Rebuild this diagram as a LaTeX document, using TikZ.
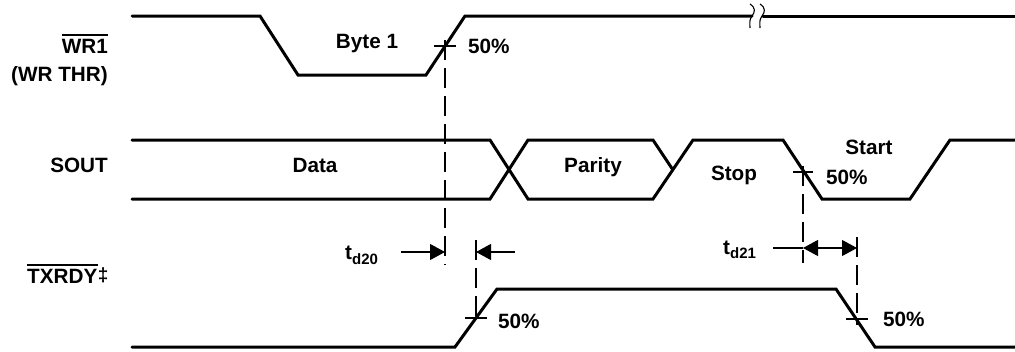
\documentclass[tikz,border=0pt]{standalone}
\usepackage{fontspec}
\setmainfont{Liberation Sans}
\usetikzlibrary{arrows.meta}
\begin{document}
\begin{tikzpicture}[x=1pt,y=-1pt,
  sig/.style={line width=3pt,line cap=round,line join=miter},
  thin/.style={line width=1.1pt},
  dsh/.style={line width=1.1pt,dash pattern=on 20pt off 8pt},
  lbl/.style={inner sep=0pt,font=\fontsize{20.7}{24}\selectfont\bfseries},
  dimarrow/.style={line width=1.1pt,-{Triangle[length=15pt,width=16pt]}},
]
\useasboundingbox (0,0) rectangle (1015,351);
% ---- WR1 signal
\draw[sig] (132,16) -- (260,16) -- (298,75) -- (426,75) -- (465,16) -- (752,16);
\draw[sig] (763,16) -- (1030,16);
\coordinate (k1) at (752,16);
\coordinate (k2) at (762,16);
\draw[thin] (k1) ++(-2,-12) .. controls ++(6,4) and ++(3,-4) .. ++(2,12) .. controls ++(-3,4) and ++(0,-5) .. ++(-2,12);
\draw[thin] (k2) ++(-2,-12) .. controls ++(6,4) and ++(3,-4) .. ++(2,12) .. controls ++(-3,4) and ++(0,-5) .. ++(-2,12);
% ---- SOUT signal
\draw[sig] (132,140) -- (490,140) -- (528,199) -- (653,199) -- (693,140) -- (783,140) -- (822,199) -- (910,199) -- (950,140) -- (1030,140);
\draw[sig] (132,199) -- (490,199) -- (528,140) -- (653,140) -- (673,170);
% ---- TXRDY signal
\draw[sig] (132,347) -- (455,347) -- (497,289) -- (836,289) -- (875,347) -- (1030,347);
% ---- reference points
\coordinate (c1) at (445,46);
\coordinate (c2) at (803,172);
\coordinate (c3) at (476,318);
\coordinate (c4) at (857,319);
\coordinate (a1) at (445,252);
\coordinate (a2) at (476,252);
\coordinate (b1) at (803,248);
\coordinate (b2) at (857,248);
% crosses
\draw[thin] (c1) ++(-11,0) -- ++(22,0);
\draw[thin] (c2) ++(-10,0) -- ++(20,0);
\draw[thin] (c3) ++(-11,0) -- ++(22,0);
\draw[thin] (c4) ++(-11,0) -- ++(22,0);
% dashed verticals
\draw[dsh] (c1) ++(0,-6) -- ([yshift=-13pt]a1);
\draw[dsh] (a2) ++(0,-12) -- ([yshift=-6pt]c3);
\draw[dsh] (c2) ++(0,-6) -- ([yshift=-15pt]b1);
\draw[dsh] (b2) ++(0,-11) -- ([yshift=-6pt]c4);
% dimension arrows
\coordinate (a1e) at (401,252);
\coordinate (a2e) at (515,252);
\coordinate (b1e) at (773,248);
\draw[dimarrow] (a1e) -- (a1);
\draw[dimarrow] (a2e) -- (a2);
\draw[thin] (b1e) -- (b1);
\draw[line width=1.1pt,{Triangle[length=15pt,width=16pt]}-{Triangle[length=15pt,width=16pt]}] (b1) -- (b2);
% ---- labels
\node[lbl,anchor=base east] (wr) at (108,53) {WR1};
\draw[line width=1.3pt] (wr.west |- 0,35) -- (wr.east |- 0,35);
\node[lbl,anchor=base east] (wrthr) at (108,81) {(WR THR)};
\node[lbl,anchor=base east] (sout) at (108,172) {SOUT};
\node[lbl,anchor=base west] (tx) at (27,283) {TXRDY};
\draw[line width=1.3pt] (tx.west |- 0,265) -- (tx.east |- 0,265);
\node[lbl,anchor=base west,font=\fontsize{19}{19}\selectfont\bfseries] (dg) at (tx.base east) {\raisebox{2pt}{‡}};
\node[lbl,anchor=base] (byte) at (367,48) {Byte 1};
\node[lbl,anchor=base west] (p1) at (468,53) {50\%};
\node[lbl,anchor=base] (data) at (315,172) {Data};
\node[lbl,anchor=base] (par) at (593,172) {Parity};
\node[lbl,anchor=base] (stop) at (734,180) {Stop};
\node[lbl,anchor=base] (start) at (869,154) {Start};
\node[lbl,anchor=base west] (p2) at (826,184) {50\%};
\node[lbl,anchor=base west] (td20) at (345,259) {t\raisebox{-5pt}{\fontsize{15}{15}\selectfont d20}};
\node[lbl,anchor=base west] (td21) at (723,254) {t\raisebox{-4pt}{\fontsize{15}{15}\selectfont d21}};
\node[lbl,anchor=base west] (p3) at (498,328) {50\%};
\node[lbl,anchor=base west] (p4) at (883,326) {50\%};
\end{tikzpicture}
\end{document}
